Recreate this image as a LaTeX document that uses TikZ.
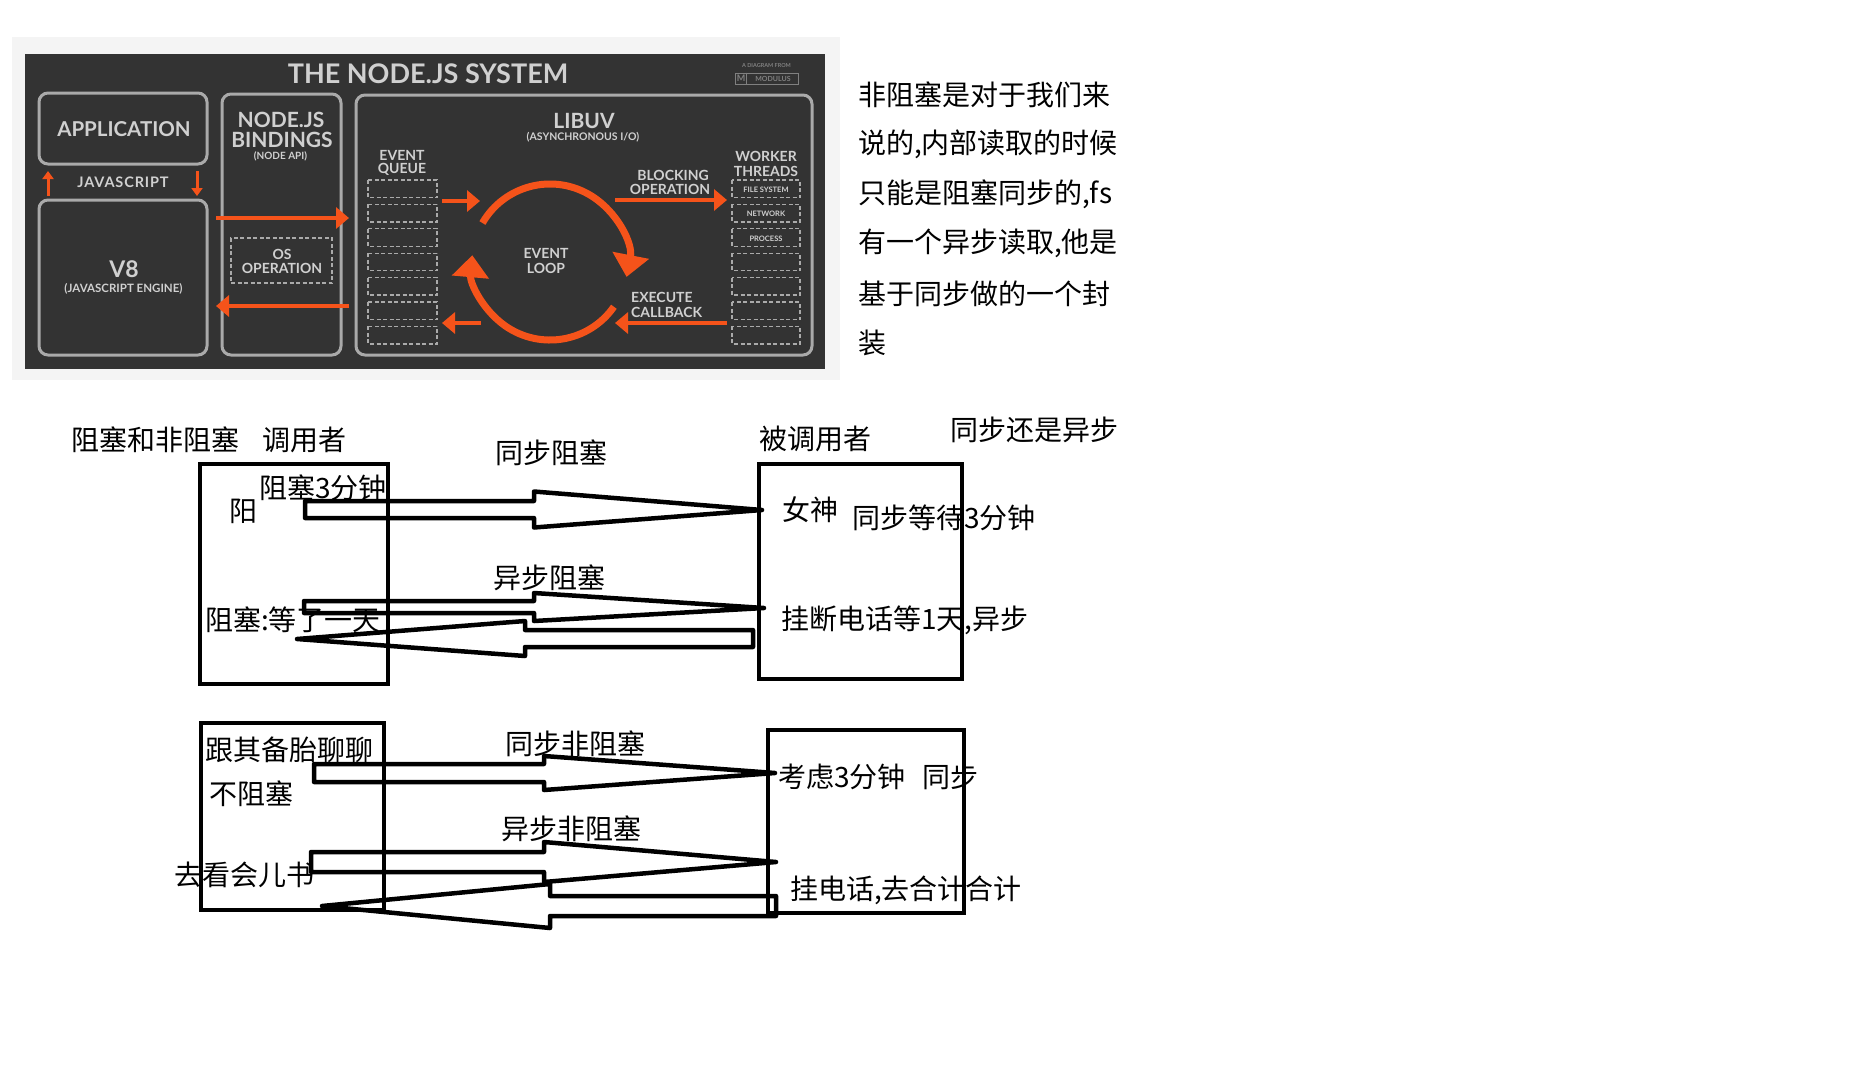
\documentclass[tikz,border=0pt]{standalone}
\usepackage{fontspec}
\setmainfont{Lato}
\newfontfamily\cjk{Noto Sans CJK SC}
\usetikzlibrary{arrows.meta,calc}
\definecolor{slate}{HTML}{333333}
\definecolor{mist}{HTML}{F4F4F4}
\definecolor{rim}{HTML}{AAAAAA}
\definecolor{chalk}{HTML}{D0D0D0}
\definecolor{flame}{HTML}{F5531A}
\newcommand{\pxsize}[1]{\fontsize{#1}{#1}\selectfont}
\newcommand{\dksize}[1]{\bfseries\fontsize{#1}{#1}\selectfont}
\newcommand{\hollowarrow}[5]{%
  \draw[bigarrow] ($(#1)+(0,-#4)$) -- ($(#2)+(0,-#4)$) -- ($(#2)+(0,-#5)$) -- (#3)
    -- ($(#2)+(0,#5)$) -- ($(#2)+(0,#4)$) -- ($(#1)+(0,#4)$) -- cycle;}
\tikzset{
  panel/.style={draw=rim, line width=3pt, rounded corners=9pt, inner sep=0pt},
  cell/.style={draw=rim, line width=1.3pt, dash pattern=on 4pt off 2.5pt},
  darktext/.style={text=chalk, inner sep=0pt, align=center},
  flow/.style={draw=flame, line width=4.5pt, -{Triangle[width=21pt,length=13pt]}},
  jsflow/.style={draw=flame, line width=3pt, -{Triangle[width=11pt,length=8pt]}},
  ring/.style={draw=flame, line width=7pt, -{Triangle[width=36pt,length=22pt]}},
  board/.style={draw=black, line width=4.5pt, inner sep=0pt},
  cjktext/.style={font=\cjk\pxsize{28}, inner sep=0pt, anchor=west},
  bigarrow/.style={draw=black, line width=4.5pt, line join=round},
}
\begin{document}
\begin{tikzpicture}[x=1pt,y=-1pt]
\useasboundingbox (0,0) rectangle (1872,1072);
\fill[mist] (12,37) rectangle (840,380);
\fill[slate] (25,54) rectangle (825,369);
\node[darktext, font=\dksize{27}] (title) at (428,74) {THE NODE.JS SYSTEM};
\node[darktext, font=\dksize{5.5}, text=gray] (credit) at (766.5,66) {A DIAGRAM FROM};
\node[draw=gray, line width=0.8pt, minimum width=63pt, minimum height=11pt, inner sep=0pt] (modulus) at (766.5,78.5) {};
\draw[gray, line width=0.8pt] ($(modulus.north west)+(12,0)$) -- ($(modulus.south west)+(12,0)$);
\node[darktext, font=\dksize{9}, text=gray] (mlogo) at (741,78.5) {M};
\node[darktext, font=\dksize{7}, text=gray] (mname) at (773,78.5) {MODULUS};
\node[panel, minimum width=168pt, minimum height=71pt] (app) at (123,128.5) {};
\node[panel, minimum width=168pt, minimum height=155pt] (v8) at (123,277.5) {};
\node[panel, minimum width=119pt, minimum height=261pt] (bind) at (281.5,224.5) {};
\node[panel, minimum width=456pt, minimum height=260pt] (libuv) at (584,225) {};
\node[cell, minimum width=101pt, minimum height=45pt] (osbox) at (281.5,260.5) {};
\node[darktext, font=\dksize{20.5}] (applabel) at (124,129.5) {APPLICATION};
\node[darktext, font=\dksize{14.5}\addfontfeature{LetterSpace=6}] (jslabel) at (123,182.5) {JAVASCRIPT};
\node[darktext, font=\dksize{23}] (v8label) at (124,269.5) {V8};
\node[darktext, font=\dksize{11.5}] (v8sub) at (123.5,289) {(JAVASCRIPT ENGINE)};
\node[darktext, font=\dksize{21}] (bindlabel) at (281,120) {NODE.JS};
\node[darktext, font=\dksize{21}] (bindlabelb) at (282,140) {BINDINGS};
\node[darktext, font=\dksize{10}] (bindsub) at (280.5,156) {(NODE API)};
\node[darktext, font=\dksize{14}] (oslabel) at (282,254.5) {OS};
\node[darktext, font=\dksize{14}] (oslabelb) at (282,268.5) {OPERATION};
\node[darktext, font=\dksize{21}] (uvlabel) at (584,121) {LIBUV};
\node[darktext, font=\dksize{10.5}] (uvsub) at (583,137) {(ASYNCHRONOUS I/O)};
\node[darktext, font=\dksize{14}] (queuelabel) at (402,155) {EVENT};
\node[darktext, font=\dksize{14}] (queuelabelb) at (402,169) {QUEUE};
\node[darktext, font=\dksize{14}] (looplabel) at (546,253.5) {EVENT};
\node[darktext, font=\dksize{14}] (looplabelb) at (546,268.5) {LOOP};
\node[darktext, font=\dksize{14}] (blocklabel) at (673,175.5) {BLOCKING};
\node[darktext, font=\dksize{14}] (blocklabelb) at (670,189.5) {OPERATION};
\node[darktext, font=\dksize{14}, anchor=west] (execlabel) at (631,297.5) {EXECUTE};
\node[darktext, font=\dksize{14}, anchor=west] (execlabelb) at (631,312) {CALLBACK};
\node[darktext, font=\dksize{14}] (workerlabel) at (766,156) {WORKER};
\node[darktext, font=\dksize{14}] (workerlabelb) at (766,171.5) {THREADS};
\foreach \i in {0,...,6} {
  \draw[cell] (368,180+24.4*\i) rectangle (437,197.5+24.4*\i);
  \draw[cell] (732,180+24.4*\i) rectangle (800,197.5+24.4*\i);
}
\node[darktext, font=\dksize{7.5}] (fslabel) at (766,189.5) {FILE SYSTEM};
\node[darktext, font=\dksize{7.5}] (netlabel) at (766,214) {NETWORK};
\node[darktext, font=\dksize{7.5}] (proclabel) at (766,238.5) {PROCESS};
\coordinate (jsupS) at (48,196);
\coordinate (jsupE) at (48,171);
\coordinate (jsdnS) at (197,171);
\coordinate (jsdnE) at (197,196);
\coordinate (callS) at (216,218);
\coordinate (callE) at (349,218);
\coordinate (retS) at (349,306);
\coordinate (retE) at (216,306);
\coordinate (qinS) at (442,201);
\coordinate (qinE) at (480,201);
\coordinate (qoutS) at (481,323);
\coordinate (qoutE) at (442,323);
\coordinate (blkS) at (615,200);
\coordinate (blkE) at (727,200);
\coordinate (cbS) at (727,323);
\coordinate (cbE) at (615,323);
\coordinate (loopc) at (550,262);
\draw[jsflow] (jsupS) -- (jsupE);
\draw[jsflow] (jsdnS) -- (jsdnE);
\draw[flow] (callS) -- (callE);
\draw[flow] (retS) -- (retE);
\draw[flow] (qinS) -- (qinE);
\draw[flow] (qoutS) -- (qoutE);
\draw[flow] (blkS) -- (blkE);
\draw[flow] (cbS) -- (cbE);
\draw[ring] (loopc) ++(-150:78) arc (-150:11:78);
\draw[ring] (loopc) ++(35:78) arc (35:185:78);
\foreach \txt [count=\i from 0] in {{非阻塞是对于我们来},{说的,内部读取的时候},{只能是阻塞同步的,fs},{有一个异步读取,他是},{基于同步做的一个封},{装}}
  \node[cjktext] (para\i) at (858,95+49.6*\i) {\txt};
\node[cjktext] (topic) at (71,440) {阻塞和非阻塞\hspace{23pt}调用者};
\node[cjktext] (callee) at (759,439) {被调用者};
\node[cjktext] (mode) at (950,430) {同步还是异步};
\node[board, minimum width=188pt, minimum height=220pt] (callerA) at (294,574) {};
\node[board, minimum width=203pt, minimum height=215pt] (calleeA) at (860.5,571.5) {};
\node[board, minimum width=183pt, minimum height=187pt] (callerB) at (292.5,816.5) {};
\node[board, minimum width=196pt, minimum height=183pt] (calleeB) at (866,821.5) {};
\node[cjktext] (syncblk) at (495,453) {同步阻塞};
\node[cjktext] (wait3) at (259,488) {阻塞3分钟};
\node[cjktext] (yang) at (229,511) {阳};
\node[cjktext] (goddess) at (782,510) {女神};
\node[cjktext] (syncwait) at (852,518) {同步等待3分钟};
\node[cjktext] (asyncblk) at (493,578) {异步阻塞};
\node[cjktext] (waitday) at (205,620) {阻塞:等了一天};
\node[cjktext] (hangup) at (781,620) {挂断电话等1天,异步};
\node[cjktext] (chat) at (205,750) {跟其备胎聊聊};
\node[cjktext] (noblk) at (209,794) {不阻塞};
\node[cjktext] (syncnb) at (505,744) {同步非阻塞};
\node[cjktext] (think) at (778,777) {考虑3分钟\hspace{17pt}同步};
\node[cjktext] (asyncnb) at (501,829) {异步非阻塞};
\node[cjktext] (read) at (174,875) {去看会儿书};
\node[cjktext] (plan) at (790,890) {挂电话,去合计合计};
\coordinate (sbTail) at (305,509.5);
\coordinate (sbBack) at (534,509.5);
\coordinate (sbTip) at (762,510);
\coordinate (abTail) at (304,607);
\coordinate (abBack) at (534,607);
\coordinate (abTip) at (764,608);
\coordinate (abRetTail) at (753,638.5);
\coordinate (abRetBack) at (525,638.5);
\coordinate (abRetTip) at (297,639);
\coordinate (snTail) at (314,773);
\coordinate (snBack) at (544,773);
\coordinate (snTip) at (775,773);
\coordinate (anTail) at (311,862);
\coordinate (anBack) at (544,862);
\coordinate (anTip) at (776,862);
\coordinate (anRetTail) at (776,906);
\coordinate (anRetBack) at (550,906);
\coordinate (anRetTip) at (322,906);
\hollowarrow{sbTail}{sbBack}{sbTip}{8.5}{18}
\hollowarrow{abTail}{abBack}{abTip}{6}{14}
\hollowarrow{abRetTail}{abRetBack}{abRetTip}{8.5}{17.5}
\hollowarrow{snTail}{snBack}{snTip}{9}{17}
\hollowarrow{anTail}{anBack}{anTip}{10}{20}
\hollowarrow{anRetTail}{anRetBack}{anRetTip}{10}{22}
\end{tikzpicture}
\end{document}
